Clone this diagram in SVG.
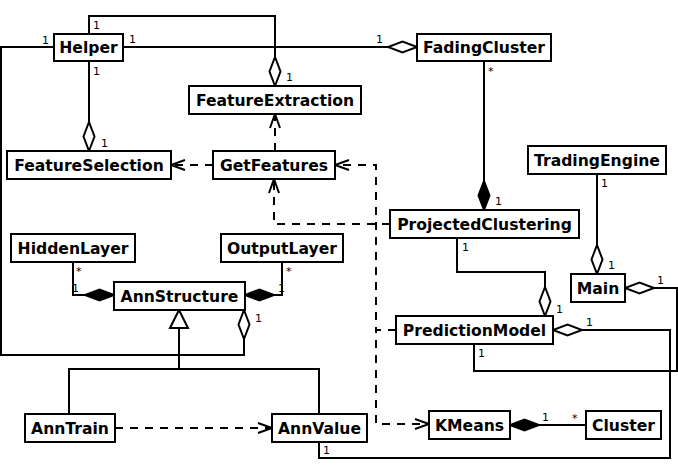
<svg xmlns="http://www.w3.org/2000/svg" width="678" height="474" viewBox="0 0 678 474">
<style>
.box{fill:#fff;stroke:#000;stroke-width:2}
.n{font-family:"DejaVu Sans",sans-serif;font-weight:bold;font-size:15.6px;text-anchor:middle;fill:#000}
.m{font-family:"DejaVu Sans",sans-serif;font-size:11px;fill:#000}
.c{fill:none;stroke:#000;stroke-width:2}
.d{fill:none;stroke:#000;stroke-width:2;stroke-dasharray:8,7}
</style>
<defs>
<marker id="dh" markerUnits="userSpaceOnUse" orient="auto" markerWidth="30" markerHeight="12" refX="29" refY="6" viewBox="0 0 30 12" overflow="visible"><path d="M29,6 L14.5,0.5 L0,6 L14.5,11.5 Z" fill="#fff" stroke="#000" stroke-width="2" stroke-dasharray="none"/></marker>
<marker id="df" markerUnits="userSpaceOnUse" orient="auto" markerWidth="30" markerHeight="12" refX="29" refY="6" viewBox="0 0 30 12" overflow="visible"><path d="M29,6 L14.5,0.5 L0,6 L14.5,11.5 Z" fill="#000" stroke="#000" stroke-width="2" stroke-dasharray="none"/></marker>
<marker id="ao" markerUnits="userSpaceOnUse" orient="auto" markerWidth="15" markerHeight="12" refX="14" refY="6" viewBox="0 0 15 12" overflow="visible"><path d="M0,1 L14,6 L0,11" fill="none" stroke="#000" stroke-width="2" stroke-dasharray="none"/></marker>
<marker id="tri" markerUnits="userSpaceOnUse" orient="auto" markerWidth="19" markerHeight="19" refX="18" refY="9" viewBox="0 0 19 19" overflow="visible"><path d="M18,9 L0,0 L0,18 Z" fill="#fff" stroke="#000" stroke-width="2" stroke-dasharray="none"/></marker>
</defs>
<g id="connectors">
<path class="c" d="M54,47 H1 V355 H244 V310" marker-end="url(#dh)"/>
<path class="c" d="M89,34 V16 H275 V86" marker-end="url(#dh)"/>
<path class="c" d="M123,47 H417" marker-end="url(#dh)"/>
<path class="c" d="M89,61 V151" marker-end="url(#dh)"/>
<path class="c" d="M484,62 V210" marker-end="url(#df)"/>
<path class="c" d="M73,262 V295 H114" marker-end="url(#df)"/>
<path class="c" d="M282,262 V295 H245" marker-end="url(#df)"/>
<path class="c" d="M69,414 V369 H319 V414"/>
<path class="c" d="M179,369 V310" marker-end="url(#tri)"/>
<path class="c" d="M597,174 V274" marker-end="url(#dh)"/>
<path class="c" d="M457,239 V272 H545 V316" marker-end="url(#dh)"/>
<path class="c" d="M474,344 V371 H677 V288 H625" marker-end="url(#dh)"/>
<path class="c" d="M319,442 V458 H670 V330 H553" marker-end="url(#dh)"/>
<path class="c" d="M586,425 H510" marker-end="url(#df)"/>
<path class="d" d="M213,165 H171" marker-end="url(#ao)"/>
<path class="d" d="M275,151 V114" marker-end="url(#ao)"/>
<path class="d" d="M390,224 H274 V179" marker-end="url(#ao)"/>
<path class="d" d="M396,330 H376 V165 H335" marker-end="url(#ao)"/>
<path class="d" d="M396,330 H376 V424 H429" marker-end="url(#ao)"/>
<path class="d" d="M115,428 H272" marker-end="url(#ao)"/>
<text class="m" x="42" y="44">1</text>
<text class="m" x="93" y="29">1</text>
<text class="m" x="286" y="81">1</text>
<text class="m" x="129" y="43">1</text>
<text class="m" x="376" y="43">1</text>
<text class="m" x="93" y="75">1</text>
<text class="m" x="101" y="147">1</text>
<text class="m" x="488" y="75">*</text>
<text class="m" x="495" y="205">1</text>
<text class="m" x="601" y="187">1</text>
<text class="m" x="462" y="251">1</text>
<text class="m" x="608" y="269">1</text>
<text class="m" x="657" y="284">1</text>
<text class="m" x="556" y="313">1</text>
<text class="m" x="586" y="326">1</text>
<text class="m" x="478" y="357">1</text>
<text class="m" x="76" y="275">*</text>
<text class="m" x="72" y="292">1</text>
<text class="m" x="286" y="275">*</text>
<text class="m" x="278" y="292">1</text>
<text class="m" x="255" y="322">1</text>
<text class="m" x="323" y="454">1</text>
<text class="m" x="542" y="421">1</text>
<text class="m" x="572" y="422">*</text>
</g>
<g id="Helper"><rect class="box" x="54" y="34" width="69" height="27"/><text class="n" x="88.5" y="53">Helper</text></g>
<g id="FadingCluster"><rect class="box" x="417" y="34" width="134" height="27"/><text class="n" x="484" y="53">FadingCluster</text></g>
<g id="FeatureExtraction"><rect class="box" x="189" y="86" width="172" height="28"/><text class="n" x="275" y="106">FeatureExtraction</text></g>
<g id="FeatureSelection"><rect class="box" x="7" y="151" width="164" height="28"/><text class="n" x="89" y="171">FeatureSelection</text></g>
<g id="GetFeatures"><rect class="box" x="213" y="151" width="122" height="28"/><text class="n" x="274" y="171">GetFeatures</text></g>
<g id="TradingEngine"><rect class="box" x="528" y="146" width="138" height="28"/><text class="n" x="597" y="166">TradingEngine</text></g>
<g id="ProjectedClustering"><rect class="box" x="390" y="210" width="189" height="28"/><text class="n" x="484.5" y="230">ProjectedClustering</text></g>
<g id="HiddenLayer"><rect class="box" x="11" y="234" width="124" height="28"/><text class="n" x="73" y="254">HiddenLayer</text></g>
<g id="OutputLayer"><rect class="box" x="221" y="234" width="122" height="28"/><text class="n" x="282" y="254">OutputLayer</text></g>
<g id="AnnStructure"><rect class="box" x="114" y="282" width="131" height="28"/><text class="n" x="179.5" y="302">AnnStructure</text></g>
<g id="Main"><rect class="box" x="571" y="274" width="54" height="28"/><text class="n" x="598" y="294">Main</text></g>
<g id="PredictionModel"><rect class="box" x="396" y="316" width="157" height="28"/><text class="n" x="474.5" y="336">PredictionModel</text></g>
<g id="AnnTrain"><rect class="box" x="25" y="414" width="90" height="28"/><text class="n" x="70" y="434">AnnTrain</text></g>
<g id="AnnValue"><rect class="box" x="272" y="414" width="95" height="28"/><text class="n" x="319.5" y="434">AnnValue</text></g>
<g id="KMeans"><rect class="box" x="429" y="411" width="81" height="28"/><text class="n" x="469.5" y="431">KMeans</text></g>
<g id="Cluster"><rect class="box" x="586" y="411" width="75" height="28"/><text class="n" x="623.5" y="431">Cluster</text></g>
</svg>
